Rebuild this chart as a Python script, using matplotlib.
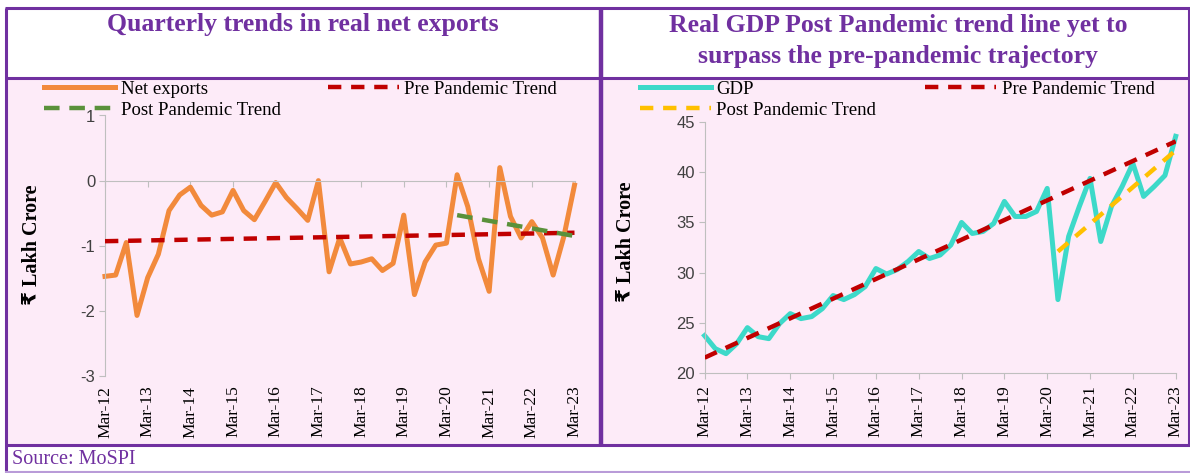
import numpy as np
import matplotlib
matplotlib.use('Agg')
import matplotlib.pyplot as plt
from matplotlib.lines import Line2D
from matplotlib.patches import Rectangle

plt.rcParams['axes.unicode_minus'] = False

# quarterly categories Mar-12 .. Mar-23
quarters = ['Mar-12']
for yr in range(12, 23):
    quarters += ['Jun-%d' % yr, 'Sep-%d' % yr, 'Dec-%d' % yr, 'Mar-%d' % (yr + 1)]
tick_labels = ['Mar-%d' % yr for yr in range(12, 24)]

# real net exports, Rs lakh crore
net_exports = [-1.47, -1.45, -0.95, -2.07, -1.49, -1.13, -0.46, -0.22, -0.10, -0.38,
               -0.53, -0.48, -0.15, -0.46, -0.60, -0.32, -0.03, -0.26, -0.43, -0.61,
               0.00, -1.40, -0.88, -1.28, -1.25, -1.20, -1.38, -1.27, -0.53, -1.75,
               -1.25, -0.99, -0.96, 0.09, -0.40, -1.20, -1.70, 0.20, -0.55, -0.88,
               -0.63, -0.88, -1.45, -0.86, -0.07]
net_pre_trend = [-0.93, -0.80]
net_pre_span = ['Mar-12', 'Mar-23']
net_post_trend = [-0.53, -0.85]
net_post_span = ['Jun-20', 'Mar-23']

# real GDP, Rs lakh crore
gdp = [23.7, 22.4, 21.9, 22.9, 24.5, 23.6, 23.4, 24.9, 25.9, 25.4,
       25.6, 26.4, 27.7, 27.3, 27.8, 28.6, 30.4, 29.85, 30.3, 31.1,
       32.1, 31.4, 31.75, 32.75, 35.0, 33.9, 34.1, 34.9, 37.1, 35.6,
       35.6, 36.1, 38.4, 27.3, 33.6, 36.6, 39.4, 33.1, 36.6, 38.6,
       40.9, 37.6, 38.6, 39.7, 43.6]
gdp_pre_trend = [21.5, 43.1]
gdp_pre_span = ['Mar-12', 'Mar-23']
gdp_post_trend = [32.1, 42.2]
gdp_post_span = ['Jun-20', 'Mar-23']

W, H = 1190, 473
PURPLE = '#7030A0'
PINK = '#FDEBF8'
GRID = '#BFBFBF'
SERIF = ['Liberation Serif', 'DejaVu Serif']


def fx(px):
    return px / W


def fy(py):
    return 1 - py / H


fig = plt.figure(figsize=(W / 100, H / 100), dpi=100)
fig.patch.set_facecolor('white')

# panel backgrounds and frame
fig.add_artist(Rectangle((fx(7), fy(444)), fx(592), (444 - 79) / H, transform=fig.transFigure,
                         facecolor=PINK, edgecolor='none', zorder=0))
fig.add_artist(Rectangle((fx(603), fy(444)), fx(585), (444 - 79) / H, transform=fig.transFigure,
                         facecolor=PINK, edgecolor='none', zorder=0))


def frame_line(xs, ys, color=PURPLE, lw=2.2):
    fig.add_artist(Line2D([fx(v) for v in xs], [fy(v) for v in ys], transform=fig.transFigure,
                          color=color, lw=lw, solid_capstyle='butt', zorder=5))


frame_line([5, 1190], [8.5, 8.5])
frame_line([5, 1190], [78.5, 78.5])
frame_line([5, 1190], [445, 445])
frame_line([6, 6], [8, 473])
frame_line([601, 601], [8, 445], lw=3.2)
frame_line([1188.5, 1188.5], [8, 445])
frame_line([5, 1190], [472, 472], color='#B99BD8', lw=1.5)

x = np.arange(len(quarters))
tick_pos = [quarters.index(t) for t in tick_labels]


def style_axis(ax, ylim, yticks):
    ax.set_facecolor('none')
    ax.set_xlim(0, len(quarters) - 1)
    ax.set_ylim(*ylim)
    ax.set_yticks(yticks)
    for s in ['top', 'right']:
        ax.spines[s].set_visible(False)
    ax.spines['left'].set_color(GRID)
    ax.spines['bottom'].set_color(GRID)
    ax.tick_params(axis='y', direction='out', length=4, color=GRID, labelcolor='#404040', pad=3)
    for lab in ax.get_yticklabels():
        lab.set_fontfamily('Liberation Sans')
        lab.set_fontsize(12)


legend_kw = dict(ncol=2, loc='upper left', bbox_transform=fig.transFigure, frameon=False,
                 borderpad=0, borderaxespad=0, handlelength=3.8, handletextpad=0.3,
                 labelspacing=0.2, prop={'family': SERIF, 'size': 13.5})

# ---------------- left: net exports ----------------
ax1 = fig.add_axes([fx(105), fy(376), fx(574.5 - 105), (376 - 115.5) / H])
style_axis(ax1, (-3, 1), [-3, -2, -1, 0, 1])
l_net, = ax1.plot(x, net_exports, color='#F28A3C', lw=3.6, solid_joinstyle='round',
                  clip_on=False, zorder=2)
l_pre, = ax1.plot([quarters.index(s) for s in net_pre_span], net_pre_trend, color='#C00000',
                  lw=3.2, dashes=(3, 2.2), zorder=3)
l_post, = ax1.plot([quarters.index(s) for s in net_post_span], net_post_trend, color='#5A913B',
                   lw=3.2, dashes=(3.5, 2.2), zorder=4)
ax1.spines['bottom'].set_position(('data', 0))
ax1.set_xticks(tick_pos)
ax1.tick_params(axis='x', direction='out', length=4, color=GRID, labelbottom=False)
sec = ax1.secondary_xaxis('bottom')
sec.set_xticks(tick_pos, labels=tick_labels)
sec.spines['bottom'].set_visible(False)
sec.tick_params(axis='x', length=0, pad=7, rotation=90)
for lab in sec.get_xticklabels():
    lab.set_fontfamily(SERIF)
    lab.set_fontsize(12.5)
ax1.set_ylabel('₹ Lakh Crore', family=['Liberation Serif', 'DejaVu Sans'], fontsize=14.5,
               fontweight='bold')
ax1.yaxis.set_label_coords(-0.134, 0.503)
ax1.legend([l_net, l_post, l_pre], ['Net exports', 'Post Pandemic Trend', 'Pre Pandemic Trend'],
           bbox_to_anchor=(fx(44), fy(80.5)), columnspacing=2.5, **legend_kw)

# ---------------- right: GDP ----------------
ax2 = fig.add_axes([fx(704.6), fy(372.7), fx(1175.7 - 704.6), (372.7 - 122.3) / H])
style_axis(ax2, (20, 45), [20, 25, 30, 35, 40, 45])
g_gdp, = ax2.plot(x, gdp, color='#3DD9C9', lw=3.6, solid_joinstyle='round',
                  clip_on=False, zorder=2)
g_pre, = ax2.plot([quarters.index(s) for s in gdp_pre_span], gdp_pre_trend, color='#C00000',
                  lw=3.2, dashes=(3, 2.2), zorder=3)
g_post, = ax2.plot([quarters.index(s) for s in gdp_post_span], gdp_post_trend, color='#FFC000',
                   lw=3.2, dashes=(3, 2.2), zorder=4)
ax2.set_xticks(tick_pos, labels=tick_labels)
ax2.tick_params(axis='x', direction='out', length=4, color=GRID, pad=5, rotation=90)
for lab in ax2.get_xticklabels():
    lab.set_fontfamily(SERIF)
    lab.set_fontsize(12.5)
ax2.set_ylabel('₹ Lakh Crore', family=['Liberation Serif', 'DejaVu Sans'], fontsize=14.5,
               fontweight='bold')
ax2.yaxis.set_label_coords(-0.146, 0.524)
ax2.legend([g_gdp, g_post, g_pre], ['GDP', 'Post Pandemic Trend', 'Pre Pandemic Trend'],
           bbox_to_anchor=(fx(639.5), fy(80.5)), columnspacing=2.6, **legend_kw)

# titles and source
fig.text(fx(303), fy(24), 'Quarterly trends in real net exports', ha='center', va='center',
         family=SERIF, fontsize=18.5, fontweight='bold', color=PURPLE)
fig.text(fx(898), fy(41), 'Real GDP Post Pandemic trend line yet to\nsurpass the pre-pandemic trajectory',
         ha='center', va='center', family=SERIF, fontsize=18.5, fontweight='bold', color=PURPLE,
         linespacing=1.4)
fig.text(fx(12), fy(459), 'Source: MoSPI', ha='left', va='center', family=SERIF, fontsize=14.5,
         color=PURPLE)

fig.savefig('out.png', dpi=100, facecolor='white')
